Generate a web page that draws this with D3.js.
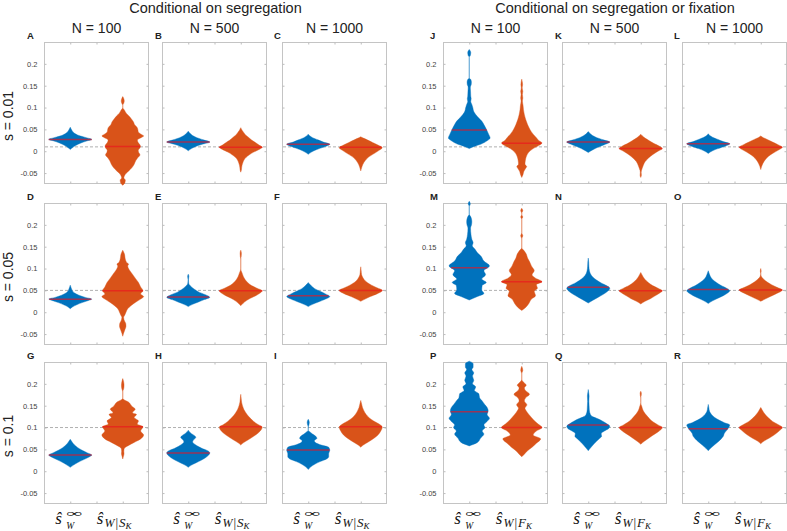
<!DOCTYPE html>
<html><head><meta charset="utf-8">
<script src="https://cdn.jsdelivr.net/npm/d3@7"></script>
<style>body{margin:0;background:#fff}svg{display:block}</style>
</head><body><svg id="c" width="787" height="531"></svg>
<script>
// ---------------- DATA ----------------
const groupTitles = ["Conditional on segregation", "Conditional on segregation or fixation"];
const colTitles = ["N = 100", "N = 500", "N = 1000"];
const rowLabels = ["s = 0.01", "s = 0.05", "s = 0.1"];
const trueS = [0.01, 0.05, 0.1];
const panelLetters = [["A","B","C","J","K","L"],["D","E","F","M","N","O"],["G","H","I","P","Q","R"]];
const yTicks = [-0.05, 0, 0.05, 0.1, 0.15, 0.2];
const yTickLabels = ["-0.05", "0", "0.05", "0.1", "0.15", "0.2"];
const xTicks = [1, 1.5, 2];
const condLetter = ["S", "F"];

const blueMedians = [[0.027,0.021,0.016,0.0485,0.021,0.017],[0.0296,0.035,0.038,0.102,0.057,0.052],[0.037,0.042,0.0485,0.136,0.106,0.097]];
const orangeMedians = [[0.0106,0.009,0.009,0.018,0.006,0.009],[0.049,0.049,0.05,0.07,0.049,0.051],[0.102,0.102,0.102,0.1,0.1,0.1]];

// violin profiles: [value, relative half-width]
const blue_A = [[0.004,0],[0.008,0.1],[0.013,0.25],[0.019,0.5],[0.024,0.8],[0.027,1],[0.031,0.75],[0.036,0.4],[0.041,0.2],[0.046,0.1],[0.051,0.04],[0.055,0]];
const orange_A = [[-0.078,0],[-0.072,0.1],[-0.066,0.12],[-0.061,0.05],[-0.057,0.07],[-0.051,0.15],[-0.045,0.28],[-0.038,0.42],[-0.03,0.53],[-0.022,0.6],[-0.016,0.68],[-0.008,0.8],[-0.003,0.74],[0.002,0.72],[0.008,0.8],[0.012,0.82],[0.017,0.76],[0.021,0.7],[0.026,0.68],[0.031,0.85],[0.035,0.97],[0.039,0.85],[0.044,0.72],[0.05,0.7],[0.055,0.66],[0.06,0.56],[0.067,0.5],[0.074,0.4],[0.08,0.3],[0.087,0.16],[0.094,0.08],[0.1,0],[0.105,0],[0.109,0.04],[0.115,0.07],[0.121,0.04],[0.125,0]];
const blue_B = [[0.001,0],[0.006,0.15],[0.011,0.35],[0.016,0.65],[0.021,1],[0.026,0.7],[0.031,0.4],[0.036,0.2],[0.041,0.08],[0.046,0]];
const orange_B = [[-0.048,0],[-0.043,0.03],[-0.038,0.04],[-0.032,0.06],[-0.026,0.1],[-0.02,0.15],[-0.014,0.25],[-0.008,0.4],[-0.002,0.6],[0.004,0.85],[0.009,1],[0.014,0.85],[0.02,0.68],[0.025,0.52],[0.031,0.38],[0.036,0.25],[0.042,0.15],[0.048,0.06],[0.054,0]];
const blue_C = [[-0.007,0],[-0.002,0.15],[0.004,0.4],[0.01,0.75],[0.016,1],[0.021,0.7],[0.026,0.45],[0.031,0.2],[0.035,0.08],[0.039,0]];
const orange_C = [[-0.045,0],[-0.038,0.04],[-0.03,0.1],[-0.022,0.2],[-0.014,0.35],[-0.006,0.6],[0.002,0.85],[0.008,1],[0.014,0.8],[0.02,0.55],[0.026,0.3],[0.03,0.12],[0.033,0]];
const blue_J = [[0.006,0],[0.011,0.23],[0.016,0.53],[0.024,0.83],[0.03,0.97],[0.039,0.9],[0.05,0.8],[0.061,0.68],[0.069,0.58],[0.077,0.42],[0.084,0.3],[0.092,0.2],[0.099,0.17],[0.107,0.12],[0.114,0.07],[0.12,0.09],[0.126,0.07],[0.137,0.06],[0.145,0.05],[0.149,0.06],[0.152,0.09],[0.158,0.1],[0.164,0.07],[0.168,0],[0.215,0],[0.219,0.05],[0.226,0.07],[0.233,0]];
const orange_J = [[-0.06,0],[-0.053,0.06],[-0.046,0.1],[-0.04,0.17],[-0.035,0.23],[-0.03,0.15],[-0.02,0.17],[-0.011,0.22],[-0.002,0.33],[0.006,0.53],[0.014,0.83],[0.019,0.94],[0.024,0.8],[0.031,0.68],[0.039,0.53],[0.05,0.38],[0.061,0.27],[0.073,0.18],[0.084,0.12],[0.095,0.08],[0.105,0.06],[0.115,0.03],[0.122,0.05],[0.13,0.03],[0.137,0.05],[0.145,0.02],[0.152,0.04],[0.16,0.02],[0.165,0]];
const blue_K = [[-0.003,0],[0.003,0.2],[0.009,0.45],[0.015,0.75],[0.021,1],[0.026,0.7],[0.031,0.4],[0.036,0.2],[0.041,0.07],[0.045,0]];
const orange_K = [[-0.06,0],[-0.055,0.03],[-0.048,0.02],[-0.04,0.06],[-0.032,0.12],[-0.024,0.2],[-0.016,0.35],[-0.008,0.55],[0,0.8],[0.006,1],[0.012,0.85],[0.018,0.6],[0.024,0.4],[0.03,0.2],[0.035,0.08],[0.039,0]];
const blue_L = [[-0.005,0],[0.001,0.2],[0.006,0.45],[0.011,0.75],[0.017,1],[0.022,0.7],[0.027,0.45],[0.032,0.2],[0.036,0.07],[0.04,0]];
const orange_L = [[-0.042,0],[-0.035,0.04],[-0.028,0.1],[-0.02,0.2],[-0.012,0.35],[-0.005,0.55],[0.002,0.8],[0.009,1],[0.015,0.8],[0.021,0.55],[0.027,0.3],[0.031,0.12],[0.035,0]];

const blue_D = [[0.008,0],[0.012,0.1],[0.017,0.3],[0.022,0.55],[0.027,0.85],[0.03,1],[0.034,0.7],[0.039,0.4],[0.044,0.2],[0.05,0.09],[0.056,0.04],[0.062,0]];
const orange_D = [[-0.055,0],[-0.048,0.04],[-0.04,0.1],[-0.032,0.15],[-0.026,0.14],[-0.02,0.08],[-0.012,0.04],[-0.006,0.1],[0,0.15],[0.008,0.23],[0.015,0.38],[0.023,0.6],[0.03,0.83],[0.036,0.97],[0.042,0.83],[0.049,0.94],[0.058,0.83],[0.068,0.73],[0.078,0.58],[0.087,0.45],[0.095,0.33],[0.102,0.25],[0.106,0.23],[0.11,0.27],[0.114,0.18],[0.121,0.12],[0.133,0.08],[0.142,0]];
const blue_E = [[0.013,0],[0.018,0.2],[0.023,0.45],[0.029,0.75],[0.034,1],[0.04,0.8],[0.046,0.5],[0.052,0.3],[0.058,0.15],[0.063,0.05],[0.067,0.02],[0.075,0.01],[0.082,0.03],[0.087,0]];
const orange_E = [[0.015,0],[0.02,0.1],[0.026,0.25],[0.032,0.45],[0.038,0.7],[0.044,0.9],[0.049,1],[0.055,0.75],[0.061,0.5],[0.068,0.32],[0.075,0.2],[0.082,0.12],[0.09,0.06],[0.099,0],[0.122,0],[0.127,0.02],[0.135,0.03],[0.142,0]];
const blue_F = [[0.013,0],[0.018,0.2],[0.024,0.5],[0.03,0.8],[0.036,1],[0.042,0.8],[0.048,0.55],[0.054,0.3],[0.06,0.15],[0.065,0.05],[0.068,0]];
const orange_F = [[0.025,0],[0.03,0.2],[0.036,0.45],[0.042,0.75],[0.05,1],[0.056,0.75],[0.062,0.5],[0.068,0.3],[0.074,0.17],[0.08,0.09],[0.086,0.04],[0.095,0.02],[0.104,0]];
const blue_M = [[0.028,0],[0.036,0.38],[0.043,0.68],[0.051,0.58],[0.061,0.6],[0.068,0.79],[0.076,0.58],[0.086,0.76],[0.095,0.68],[0.106,0.94],[0.117,0.68],[0.129,0.53],[0.136,0.38],[0.144,0.27],[0.152,0.14],[0.159,0.18],[0.167,0.12],[0.178,0.08],[0.193,0.06],[0.199,0.1],[0.207,0.12],[0.216,0.09],[0.22,0.05],[0.224,0],[0.242,0],[0.248,0.05],[0.254,0]];
const orange_M = [[0.004,0],[0.011,0.18],[0.02,0.33],[0.03,0.45],[0.038,0.64],[0.048,0.58],[0.055,0.73],[0.063,0.68],[0.07,0.94],[0.078,0.64],[0.086,0.48],[0.095,0.58],[0.106,0.45],[0.116,0.36],[0.124,0.27],[0.133,0.21],[0.14,0.12],[0.148,0],[0.168,0],[0.175,0.05],[0.182,0],[0.213,0],[0.218,0.05],[0.223,0],[0.227,0],[0.232,0.05],[0.238,0]];
const blue_N = [[0.021,0],[0.027,0.2],[0.034,0.45],[0.041,0.7],[0.048,0.9],[0.055,1],[0.061,0.85],[0.067,0.6],[0.073,0.4],[0.08,0.22],[0.088,0.1],[0.096,0.05],[0.105,0.03],[0.115,0.02],[0.124,0]];
const orange_N = [[0.019,0],[0.025,0.2],[0.031,0.45],[0.037,0.65],[0.043,0.85],[0.049,1],[0.055,0.8],[0.061,0.55],[0.068,0.35],[0.075,0.2],[0.082,0.1],[0.091,0]];
const blue_O = [[0.02,0],[0.026,0.2],[0.032,0.45],[0.038,0.7],[0.044,0.9],[0.049,1],[0.055,0.85],[0.061,0.6],[0.068,0.38],[0.075,0.2],[0.082,0.1],[0.089,0.04],[0.095,0]];
const orange_O = [[0.025,0],[0.03,0.2],[0.036,0.45],[0.042,0.7],[0.051,1],[0.057,0.75],[0.063,0.5],[0.069,0.3],[0.075,0.15],[0.08,0.05],[0.083,0.02],[0.088,0],[0.094,0.02],[0.1,0]];

const blue_G = [[0.009,0],[0.014,0.15],[0.02,0.35],[0.026,0.6],[0.032,0.85],[0.037,1],[0.042,0.8],[0.048,0.55],[0.054,0.35],[0.06,0.2],[0.066,0.1],[0.073,0]];
const orange_G = [[0.028,0],[0.034,0.03],[0.04,0.06],[0.046,0.05],[0.053,0.08],[0.058,0.23],[0.066,0.53],[0.074,0.83],[0.083,0.97],[0.092,0.83],[0.102,0.94],[0.108,0.67],[0.115,0.73],[0.123,0.53],[0.13,0.64],[0.134,0.45],[0.142,0.58],[0.149,0.42],[0.157,0.3],[0.167,0],[0.182,0],[0.188,0.04],[0.197,0.06],[0.205,0.04],[0.212,0]];
const blue_H = [[0.009,0],[0.014,0.15],[0.019,0.35],[0.025,0.6],[0.031,0.8],[0.037,0.95],[0.042,1],[0.047,0.9],[0.052,0.65],[0.057,0.45],[0.062,0.3],[0.067,0.2],[0.072,0.25],[0.077,0.35],[0.081,0.3],[0.086,0.15],[0.09,0.06],[0.094,0]];
const orange_H = [[0.06,0],[0.065,0.12],[0.072,0.35],[0.08,0.6],[0.088,0.82],[0.095,0.95],[0.101,1],[0.107,0.8],[0.114,0.6],[0.121,0.45],[0.128,0.32],[0.135,0.22],[0.142,0.14],[0.15,0.08],[0.158,0.04],[0.167,0.02],[0.176,0]];
const blue_I = [[0.004,0],[0.01,0.12],[0.016,0.3],[0.022,0.55],[0.028,0.85],[0.033,0.95],[0.04,0.95],[0.048,1],[0.055,0.95],[0.06,0.6],[0.065,0.35],[0.07,0.28],[0.075,0.4],[0.08,0.35],[0.085,0.2],[0.09,0.08],[0.094,0],[0.101,0],[0.106,0.03],[0.112,0.05],[0.119,0]];
const orange_I = [[0.055,0],[0.06,0.12],[0.067,0.35],[0.075,0.6],[0.083,0.8],[0.092,0.93],[0.101,1],[0.108,0.85],[0.115,0.6],[0.122,0.4],[0.13,0.25],[0.138,0.15],[0.146,0.08],[0.154,0.04],[0.162,0]];
const blue_P = [[0.058,0],[0.066,0.38],[0.076,0.53],[0.085,0.68],[0.092,0.6],[0.1,0.73],[0.106,0.68],[0.114,0.83],[0.121,0.94],[0.13,0.83],[0.138,0.88],[0.146,0.83],[0.152,0.73],[0.161,0.6],[0.168,0.48],[0.177,0.45],[0.185,0.24],[0.193,0.3],[0.2,0.15],[0.208,0.21],[0.218,0.15],[0.225,0.21],[0.233,0.12],[0.238,0.18],[0.246,0.18],[0.252,0]];
const orange_P = [[0.033,0],[0.039,0.12],[0.047,0.27],[0.055,0.48],[0.064,0.68],[0.074,0.88],[0.083,0.53],[0.092,0.68],[0.1,0.94],[0.108,0.76],[0.115,0.6],[0.123,0.45],[0.13,0.33],[0.138,0.21],[0.144,0.15],[0.152,0.24],[0.161,0.12],[0.168,0.18],[0.176,0.36],[0.186,0.15],[0.191,0.12],[0.197,0.21],[0.202,0.12],[0.21,0],[0.223,0],[0.231,0.05],[0.24,0]];
const blue_Q = [[0.047,0],[0.053,0.1],[0.06,0.22],[0.067,0.35],[0.074,0.5],[0.08,0.62],[0.086,0.6],[0.092,0.75],[0.098,0.95],[0.103,1],[0.109,0.85],[0.115,0.65],[0.12,0.45],[0.125,0.2],[0.13,0.1],[0.14,0.05],[0.15,0.04],[0.16,0.03],[0.172,0.04],[0.18,0.02],[0.187,0]];
const orange_Q = [[0.062,0],[0.068,0.15],[0.075,0.35],[0.082,0.55],[0.09,0.8],[0.1,1],[0.106,0.8],[0.112,0.6],[0.118,0.45],[0.125,0.32],[0.132,0.2],[0.14,0.1],[0.148,0.05],[0.157,0],[0.168,0],[0.173,0.02],[0.178,0.03],[0.183,0]];
const blue_R = [[0.047,0],[0.053,0.12],[0.06,0.28],[0.067,0.45],[0.074,0.6],[0.08,0.7],[0.087,0.75],[0.093,0.85],[0.1,0.95],[0.106,1],[0.111,0.75],[0.117,0.5],[0.123,0.3],[0.13,0.15],[0.137,0.06],[0.145,0.03],[0.153,0]];
const orange_R = [[0.063,0],[0.069,0.15],[0.076,0.4],[0.084,0.65],[0.092,0.85],[0.1,1],[0.107,0.8],[0.114,0.55],[0.121,0.38],[0.128,0.24],[0.135,0.13],[0.141,0.06],[0.146,0]];

const blueViolins = [[blue_A,blue_B,blue_C,blue_J,blue_K,blue_L],[blue_D,blue_E,blue_F,blue_M,blue_N,blue_O],[blue_G,blue_H,blue_I,blue_P,blue_Q,blue_R]];
const orangeViolins = [[orange_A,orange_B,orange_C,orange_J,orange_K,orange_L],[orange_D,orange_E,orange_F,orange_M,orange_N,orange_O],[orange_G,orange_H,orange_I,orange_P,orange_Q,orange_R]];

// ---------------- LAYOUT ----------------
const colX = [44, 162, 282, 443, 562, 682];
const letterOffset = [-17, -7, -8, -13, -7, -8];
const rowY = [42, 203, 362];
const PW = 105, PH = 142;
const HW = 0.41;
const BLUE = "#0072BD", ORANGE = "#D95319";

const svg = d3.select("#c");
const font = "Liberation Sans, Arial, Helvetica, sans-serif";
const serif = "Liberation Serif, Times New Roman, serif";

function widthAt(prof, v) {
  for (let i = 0; i < prof.length - 1; i++) {
    const a = prof[i], b = prof[i+1];
    if (v >= a[0] && v <= b[0]) return a[1] + (b[1]-a[1])*(v-a[0])/(b[0]-a[0]);
  }
  return 0;
}

// group titles
[0,1].forEach(gi => {
  const x0 = colX[gi*3], x1 = colX[gi*3+2] + PW;
  svg.append("text").attr("x", (x0+x1)/2).attr("y", 13).attr("text-anchor","middle")
    .attr("font-family", font).attr("font-size", 14.5).attr("fill","#222").text(groupTitles[gi]);
  colTitles.forEach((t, ci) => {
    svg.append("text").attr("x", colX[gi*3+ci] + PW/2).attr("y", 33).attr("text-anchor","middle")
      .attr("font-family", font).attr("font-size", 14).attr("fill","#222").text(t);
  });
});

// row labels
rowLabels.forEach((t, ri) => {
  const cy = rowY[ri] + PH/2 + 3;
  svg.append("text").attr("transform", `translate(13,${cy}) rotate(-90)`).attr("text-anchor","middle")
    .attr("font-family", font).attr("font-size", 14).attr("fill","#222").text(t);
});

for (let r = 0; r < 3; r++) {
  const y = d3.scaleLinear().domain([-0.075, 0.25]).range([rowY[r] + PH, rowY[r]]);
  for (let c = 0; c < 6; c++) {
    const x = d3.scaleLinear().domain([0.5, 2.5]).range([colX[c], colX[c] + PW]);
    const g = svg.append("g");
    const showLab = (c === 0 || c === 3);

    // box
    g.append("rect").attr("x", colX[c]+0.5).attr("y", rowY[r]+0.5).attr("width", PW-1).attr("height", PH-1)
      .attr("fill","none").attr("stroke","#c4c4c4").attr("stroke-width",1);

    const axL = g.append("g").attr("transform", `translate(${colX[c]+0.5},0)`)
      .call(d3.axisLeft(y).tickValues(yTicks).tickSize(-2).tickPadding(7)
        .tickFormat((d,i) => showLab ? yTickLabels[i] : ""));
    const axR = g.append("g").attr("transform", `translate(${colX[c]+PW-0.5},0)`)
      .call(d3.axisRight(y).tickValues(yTicks).tickSize(-2).tickFormat(""));
    const axT = g.append("g").attr("transform", `translate(0,${rowY[r]+0.5})`)
      .call(d3.axisTop(x).tickValues(xTicks).tickSize(-2).tickFormat(""));
    const axB = g.append("g").attr("transform", `translate(0,${rowY[r]+PH-0.5})`)
      .call(d3.axisBottom(x).tickValues(xTicks).tickSize(-2).tickFormat(""));
    [axL, axR, axT, axB].forEach(a => {
      a.select(".domain").remove();
      a.selectAll(".tick line").attr("stroke", "#bdbdbd");
      a.selectAll(".tick text").attr("fill", "#444").attr("font-size", 7.5).attr("font-family", font);
    });

    // reference dashed line
    g.append("line").attr("x1", colX[c]+1).attr("x2", colX[c]+PW-1)
      .attr("y1", y(trueS[r])).attr("y2", y(trueS[r]))
      .attr("stroke", "#b0b0b0").attr("stroke-width", 1).attr("stroke-dasharray", "3,2");

    // violins
    const specs = [[1, blueViolins[r][c], BLUE, blueMedians[r][c]], [2, orangeViolins[r][c], ORANGE, orangeMedians[r][c]]];
    specs.forEach(([pos, prof, col, med]) => {
      const area = d3.area().curve(d3.curveMonotoneY)
        .y(d => y(d[0]))
        .x0(d => x(pos - d[1]*HW))
        .x1(d => x(pos + d[1]*HW));
      g.append("path").datum(prof).attr("d", area).attr("fill", col).attr("stroke", col).attr("stroke-width", 0.4);
      const w = widthAt(prof, med) * HW;
      g.append("line").attr("x1", x(pos - w)).attr("x2", x(pos + w))
        .attr("y1", y(med)).attr("y2", y(med))
        .attr("stroke", "rgba(235,20,30,0.65)").attr("stroke-width", 1.5);
    });

    // panel letter
    g.append("text").attr("x", colX[c] + letterOffset[c]).attr("y", rowY[r] - 3)
      .attr("font-family", font).attr("font-weight", "bold").attr("font-size", 9.5).attr("fill", "#222")
      .text(panelLetters[r][c]);

    // x tick labels (bottom row only)
    if (r === 2) {
      const yb = rowY[r] + PH;
      const c1 = x(1), c2 = x(2);
      // estimator 1: s-hat with stacked superscript infinity and subscript W
      svg.append("text").attr("x", c1 - 15).attr("y", yb + 20).attr("font-family", serif)
        .attr("font-style","italic").attr("font-size", 17).attr("fill","#111").text("ŝ");
      svg.append("text").attr("x", c1 - 4).attr("y", yb + 13).attr("font-family", serif)
        .attr("font-size", 11).attr("fill","#111")
        .attr("textLength", 16).attr("lengthAdjust","spacingAndGlyphs").text("∞");
      svg.append("text").attr("x", c1 - 4).attr("y", yb + 24.5).attr("font-family", serif)
        .attr("font-style","italic").attr("font-size", 9.5).attr("fill","#111").text("W");
      // estimator 2
      const t = svg.append("text").attr("x", c2 - 26).attr("y", yb + 20).attr("font-family", serif)
        .attr("fill","#111");
      t.append("tspan").attr("font-style","italic").attr("font-size", 17).text("ŝ");
      t.append("tspan").attr("font-style","italic").attr("font-size", 12).attr("dy", 3).attr("dx", 1).text("W");
      t.append("tspan").attr("font-size", 13).attr("dx", 1).text("|");
      t.append("tspan").attr("font-style","italic").attr("font-size", 13).attr("dx", 1).text(condLetter[c < 3 ? 0 : 1]);
      t.append("tspan").attr("font-style","italic").attr("font-size", 9).attr("dy", 2).text("K");
    }
  }
}
</script></body></html>
